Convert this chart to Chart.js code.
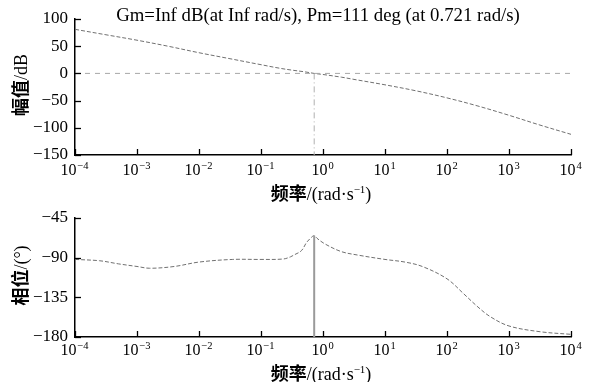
<!DOCTYPE html>
<html>
<head>
<meta charset="utf-8">
<script src="https://cdn.jsdelivr.net/npm/chart.js@4"></script>
<style>
  html,body{margin:0;padding:0;background:#fff;}
  #wrap{position:relative;width:589px;height:382px;overflow:hidden;}
  canvas{position:absolute;left:0;}
</style>
</head>
<body>
<div id="wrap">
  <canvas id="top" width="589" height="212" style="top:0"></canvas>
  <canvas id="bot" width="589" height="182" style="top:200px"></canvas>
</div>
<script>
// ---------- data ----------
const titleText = 'Gm=Inf dB(at Inf rad/s), Pm=111 deg (at 0.721 rad/s)';
const xTickExps = [-4, -3, -2, -1, 0, 1, 2, 3, 4];
const magTicks = [100, 50, 0, -50, -100, -150];
const phaseTicks = [-45, -90, -135, -180];

const magFreq = [1e-4, 3.16e-4, 1e-3, 3.16e-3, 1e-2, 3.16e-2, 0.1, 0.2, 0.316, 0.5, 0.721, 1, 2, 3.16, 10, 31.6, 100, 316, 1000, 3162, 10000];
const magDb   = [81, 71, 61, 50, 38, 27, 16, 9.5, 6, 3, 0, -2, -7, -11, -21, -32, -45, -60, -77, -95, -112];

const phaseFreq = [1e-4, 2.5e-4, 5e-4, 1e-3, 1.6e-3, 4e-3, 1e-2, 3.5e-2, 0.1, 0.23, 0.3, 0.34, 0.45, 0.54, 0.65, 0.721, 0.8, 1.05, 1.95, 3.6, 10, 21, 40, 100, 186, 316, 500, 1000, 3162, 10000];
const phaseDeg  = [-92, -93.5, -97, -100, -102, -100, -95, -92, -92, -91.5, -89, -87, -82, -73, -67, -65, -68, -74, -83, -87, -92, -95, -100, -114, -131, -146, -157, -167.5, -174, -177];

const wc = 0.721;          // crossover frequency
const phaseAtWc = -65;     // phase at crossover

// ---------- helpers ----------
const SERIF = '"Liberation Serif", "Times New Roman", serif';
const CJK = '"Noto Sans CJK SC", sans-serif';
const pts = (xs, ys) => xs.map((x, i) => ({x, y: ys[i]}));
const minus = s => String(s).replace('-', '\u2212');

function drawMixed(ctx, parts, cx, cy, rotate) {
  ctx.save();
  ctx.textBaseline = 'alphabetic';
  let total = 0;
  parts.forEach(p => { ctx.font = p.font; p.w = ctx.measureText(p.t).width; total += p.w; });
  ctx.translate(cx, cy);
  if (rotate) ctx.rotate(-Math.PI / 2);
  let x = -total / 2;
  ctx.fillStyle = '#000';
  parts.forEach(p => {
    ctx.font = p.font;
    ctx.fillText(p.t, x, p.base);
    x += p.w;
  });
  ctx.restore();
}

function makePlugin(opts) {
  return {
    id: 'bodeDeco',
    afterDraw(chart) {
      const ctx = chart.ctx;
      const xs = chart.scales.x, ys = chart.scales.y;
      const a = chart.chartArea;
      ctx.save();
      ctx.strokeStyle = '#000';
      ctx.lineWidth = 1.3;
      xTickExps.forEach(e => {
        const px = Math.round(xs.getPixelForValue(Math.pow(10, e))) + 0.5;
        ctx.beginPath();
        ctx.moveTo(px, a.bottom);
        ctx.lineTo(px, a.bottom - 6);
        ctx.stroke();
        const base = '10', ex = minus(e);
        ctx.font = '16px ' + SERIF;
        const w1 = ctx.measureText(base).width;
        ctx.font = '10.5px ' + SERIF;
        const w2 = ctx.measureText(ex).width;
        const x0 = px - (w1 + w2 + 1) / 2 - 1;
        ctx.fillStyle = '#000';
        ctx.textBaseline = 'alphabetic';
        ctx.font = '16px ' + SERIF;
        ctx.fillText(base, x0, a.bottom + opts.xLabBase);
        ctx.font = '10.5px ' + SERIF;
        ctx.fillText(ex, x0 + w1 + 1, a.bottom + opts.xLabBase - 6.5);
      });
      opts.yTicks.forEach(v => {
        const py = Math.round(ys.getPixelForValue(v)) + 0.5;
        ctx.beginPath();
        ctx.moveTo(a.left, py);
        ctx.lineTo(a.left + 6, py);
        ctx.stroke();
      });
      ctx.restore();
      drawMixed(ctx, [
        {t: opts.yCjk, font: 'bold 18px ' + CJK, base: 6},
        {t: opts.ySerif, font: '18px ' + SERIF, base: 6}
      ], 21, (a.top + a.bottom) / 2 - 2, true);
      drawMixed(ctx, [
        {t: '频率', font: 'bold 18px ' + CJK, base: 6},
        {t: '/(rad·s', font: '18px ' + SERIF, base: 6},
        {t: '\u22121', font: '11px ' + SERIF, base: -1},
        {t: ')', font: '18px ' + SERIF, base: 6}
      ], (a.left + a.right) / 2 - 2, a.bottom + opts.xTitleY, false);
      if (opts.title) {
        ctx.save();
        ctx.font = '18.8px ' + SERIF;
        ctx.fillStyle = '#000';
        ctx.textAlign = 'center';
        ctx.textBaseline = 'alphabetic';
        ctx.fillText(opts.title, (a.left + a.right) / 2 - 5, 21);
        ctx.restore();
      }
    }
  };
}

function baseOptions(yMin, yMax, step, padTop, axisH) {
  return {
    responsive: false,
    animation: false,
    devicePixelRatio: 1,
    layout: {padding: {top: padTop, right: 18, left: 0, bottom: 0}},
    plugins: {legend: {display: false}, tooltip: {enabled: false}},
    elements: {point: {radius: 0}, line: {tension: 0.35}},
    scales: {
      x: {
        type: 'logarithmic', min: 1e-4, max: 1e4,
        ticks: {display: false},
        grid: {display: false},
        border: {display: true, color: '#000', width: 1.5},
        afterFit: s => { s.height = axisH; }
      },
      y: {
        min: yMin, max: yMax,
        ticks: {
          stepSize: step, padding: 7, color: '#000',
          font: {family: SERIF, size: 17},
          callback: v => minus(v)
        },
        grid: {display: false, drawTicks: false},
        border: {display: true, color: '#000', width: 1.5},
        afterFit: s => { s.width = 75; }
      }
    }
  };
}

new Chart(document.getElementById('top'), {
  type: 'line',
  data: {
    datasets: [
      {data: [{x: 1e-4, y: 0}, {x: 1e4, y: 0}], borderColor: '#a8a8a8', borderWidth: 1, borderDash: [5, 5], tension: 0},
      {data: [{x: wc, y: 0}, {x: wc, y: -150}], borderColor: '#b0b0b0', borderWidth: 1, borderDash: [6, 3, 1, 3], tension: 0},
      {data: pts(magFreq, magDb), borderColor: '#707070', borderWidth: 1, borderDash: [4, 2]}
    ]
  },
  options: baseOptions(-150, 100, 50, 19, 57),
  plugins: [makePlugin({yTicks: magTicks, yCjk: '幅值', ySerif: '/dB', xLabBase: 20, xTitleY: 39, title: titleText})]
});

new Chart(document.getElementById('bot'), {
  type: 'line',
  data: {
    datasets: [
      {data: [{x: wc, y: -180}, {x: wc, y: phaseAtWc}], borderColor: '#9a9a9a', borderWidth: 2, tension: 0},
      {data: pts(phaseFreq, phaseDeg), borderColor: '#707070', borderWidth: 1, borderDash: [4, 2]}
    ]
  },
  options: baseOptions(-180, -45, 45, 18, 45),
  plugins: [makePlugin({yTicks: phaseTicks, yCjk: '相位', ySerif: '/(°)', xLabBase: 18, xTitleY: 37})]
});
</script>
</body>
</html>
